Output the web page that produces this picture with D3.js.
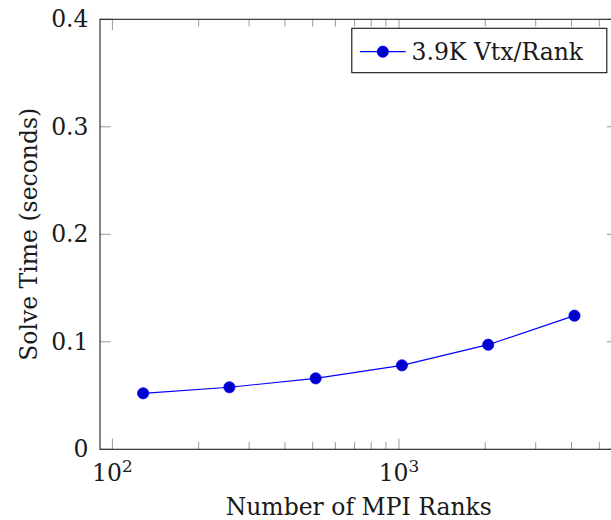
<!DOCTYPE html>
<html>
<head>
<meta charset="utf-8">
<script src="https://cdn.jsdelivr.net/npm/d3@7"></script>
<style>
  html, body { margin: 0; padding: 0; background: #fff; }
  svg { display: block; }
  text { font-family: "DejaVu Serif", "Liberation Serif", serif; fill: #1a1a1a; }
</style>
</head>
<body>
<svg id="chart" width="611" height="520"></svg>
<script>
// Solve time versus number of MPI ranks (weak scaling, 3.9K vertices per rank)
const ranks = [128, 256, 512, 1024, 2048, 4096];
const solveTime = [0.0521, 0.0577, 0.0660, 0.0781, 0.0973, 0.1243];
const seriesName = "3.9K Vtx/Rank";
const yTicks = [0, 0.1, 0.2, 0.3, 0.4];
const yTickLabels = ["0", "0.1", "0.2", "0.3", "0.4"];
const xMajorTicks = [100, 1000];
const xMajorExponents = ["2", "3"];
const xLabel = "Number of MPI Ranks";
const yLabel = "Solve Time (seconds)";

const svg = d3.select("#chart");
const plot = { left: 100, top: 19.3, width: 517.6, height: 430 };
const fontSize = 23.5;

// Log x-range padded by 10% of the data span on each side
const lx0 = Math.log10(d3.min(ranks)), lx1 = Math.log10(d3.max(ranks));
const pad = (lx1 - lx0) * 0.1;
const x = d3.scaleLog()
  .domain([Math.pow(10, lx0 - pad), Math.pow(10, lx1 + pad)])
  .range([plot.left, plot.left + plot.width]);
const y = d3.scaleLinear()
  .domain([0, 0.4])
  .range([plot.top + plot.height, plot.top]);

const [xd0, xd1] = x.domain();
const xMinor = x.ticks().filter(v => v > xd0 && v < xd1 && !xMajorTicks.includes(v));

const bottom = plot.top + plot.height;
const right = plot.left + plot.width;
const majorLen = 10.7, minorLen = 7.2;

const ticks = svg.append("g").attr("stroke", "#999").attr("stroke-width", 1);
// x ticks: bottom and mirrored on top, pointing inward
xMinor.forEach(v => {
  const px = x(v);
  ticks.append("line").attr("x1", px).attr("x2", px).attr("y1", bottom).attr("y2", bottom - minorLen);
  ticks.append("line").attr("x1", px).attr("x2", px).attr("y1", plot.top).attr("y2", plot.top + minorLen);
});
xMajorTicks.forEach(v => {
  const px = x(v);
  ticks.append("line").attr("x1", px).attr("x2", px).attr("y1", bottom).attr("y2", bottom - majorLen);
  ticks.append("line").attr("x1", px).attr("x2", px).attr("y1", plot.top).attr("y2", plot.top + majorLen);
});
// y ticks: left and mirrored on right
yTicks.forEach(v => {
  const py = y(v);
  ticks.append("line").attr("x1", plot.left).attr("x2", plot.left + majorLen).attr("y1", py).attr("y2", py);
  ticks.append("line").attr("x1", right).attr("x2", right - majorLen).attr("y1", py).attr("y2", py);
});

// Frame
svg.append("rect")
  .attr("x", plot.left).attr("y", plot.top)
  .attr("width", plot.width).attr("height", plot.height)
  .attr("fill", "none").attr("stroke", "#222").attr("stroke-width", 1.1);

// Y tick labels
svg.append("g").selectAll("text").data(yTicks).join("text")
  .attr("x", plot.left - 11.5)
  .attr("y", d => y(d) + 8)
  .attr("text-anchor", "end")
  .attr("font-size", fontSize)
  .text((d, i) => yTickLabels[i]);

// X tick labels with superscript exponents
const xl = svg.append("g").selectAll("text").data(xMajorTicks).join("text")
  .attr("x", d => x(d))
  .attr("y", 481)
  .attr("text-anchor", "middle")
  .attr("font-size", fontSize);
xl.append("tspan").text("10");
xl.append("tspan").attr("dy", -9.5).attr("font-size", fontSize * 0.72).text((d, i) => xMajorExponents[i]);

// Axis titles
svg.append("text")
  .attr("x", plot.left + plot.width / 2)
  .attr("y", 515)
  .attr("text-anchor", "middle")
  .attr("font-size", fontSize)
  .text(xLabel);

svg.append("text")
  .attr("transform", `translate(37,${plot.top + plot.height / 2}) rotate(-90)`)
  .attr("text-anchor", "middle")
  .attr("font-size", fontSize)
  .text(yLabel);

// Data series
const line = d3.line().x((d, i) => x(ranks[i])).y(d => y(d));
svg.append("path")
  .datum(solveTime)
  .attr("d", line)
  .attr("fill", "none")
  .attr("stroke", "#0000ff")
  .attr("stroke-width", 1.2);

svg.append("g").selectAll("circle").data(solveTime).join("circle")
  .attr("cx", (d, i) => x(ranks[i]))
  .attr("cy", d => y(d))
  .attr("r", 5.6)
  .attr("fill", "#0000cc")
  .attr("stroke", "#0000ff")
  .attr("stroke-width", 0.8);

// Legend
const legend = svg.append("g");
legend.append("rect")
  .attr("x", 351.8).attr("y", 28.3).attr("width", 255).attr("height", 44.4)
  .attr("fill", "#fff").attr("stroke", "#111").attr("stroke-width", 1.1);
legend.append("line")
  .attr("x1", 360).attr("x2", 405.7).attr("y1", 51.7).attr("y2", 51.7)
  .attr("stroke", "#0000ff").attr("stroke-width", 1.2);
legend.append("circle")
  .attr("cx", 382.8).attr("cy", 51.7).attr("r", 5.6)
  .attr("fill", "#0000cc").attr("stroke", "#0000ff").attr("stroke-width", 0.8);
legend.append("text")
  .attr("x", 411.5).attr("y", 59.5)
  .attr("font-size", fontSize)
  .text(seriesName);
</script>
</body>
</html>
